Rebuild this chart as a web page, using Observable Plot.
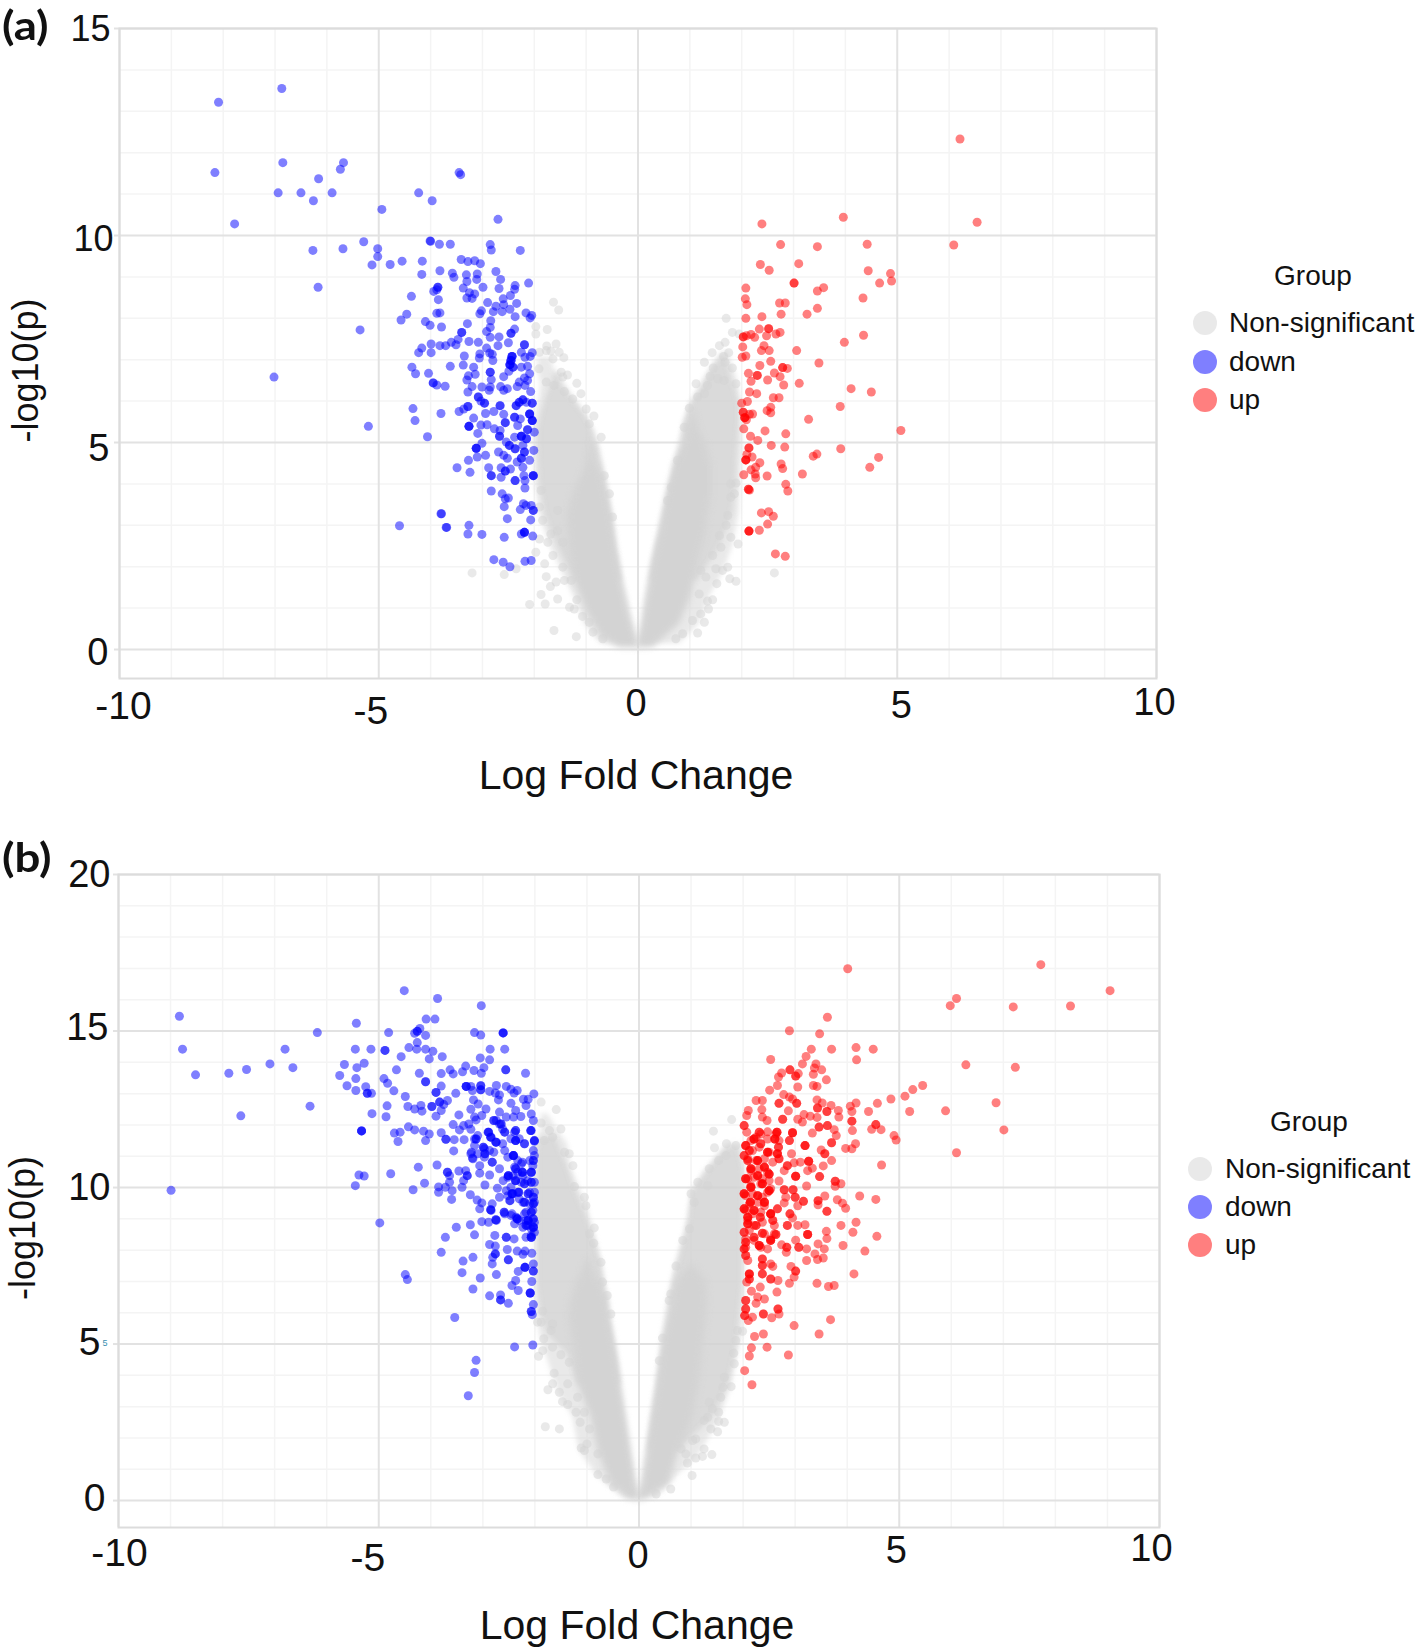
<!DOCTYPE html>
<html><head><meta charset="utf-8">
<script src="https://cdn.jsdelivr.net/npm/d3@7"></script>
<script src="https://cdn.jsdelivr.net/npm/@observablehq/plot@0.6"></script>
<style>
html,body{margin:0;padding:0;background:#fff;}
#page{position:relative;width:1416px;height:1650px;overflow:hidden;font-family:"Liberation Sans",Arial,sans-serif;color:#111;}
#page svg{position:absolute;left:0;background:transparent;}
.tag{position:absolute;left:2px;font:700 38px Lato,sans-serif;line-height:46px;transform:scale(1.2,1.06);transform-origin:0 0;}
.lg{position:absolute;font-size:28px;line-height:34px;white-space:nowrap;}
.sw{position:absolute;width:24px;height:24px;border-radius:50%;}
</style></head><body><div id="page"></div>
<script>
// Panel (a): Log Fold Change, -log10(p) pairs
const aDown=[-6.87,13.55,-8.09,13.22,-6.85,11.76,-5.68,11.76,-5.74,11.60,-8.16,11.52,-3.45,11.52,-3.42,11.47,-6.16,11.37,-6.94,11.03,-6.50,11.03,-5.90,11.03,-4.23,11.03,-6.26,10.84,-3.97,10.84,-4.94,10.63,-7.78,10.28,-2.70,10.39,-5.29,9.85,-4.01,9.87,-6.27,9.64,-5.69,9.68,-5.02,9.68,-5.02,9.49,-5.13,9.29,-4.78,9.30,-4.55,9.38,-6.17,8.75,-5.36,7.72,-7.02,6.58,-5.20,5.39,-4.30,5.53,-4.34,5.82,-4.06,5.14,-4.60,2.99,-3.79,3.28,-3.70,2.95,-3.80,5.70,
-4.00,9.86,-3.83,9.79,-3.62,9.79,-2.85,9.78,-2.83,9.65,-2.27,9.64,-4.16,9.38,-4.17,9.06,-3.82,9.15,-3.41,9.42,-3.28,9.37,-3.15,9.39,-3.04,9.32,-2.74,9.13,-3.58,9.09,-3.55,8.99,-3.31,9.05,-3.10,9.07,-3.11,8.94,-2.65,8.94,-3.30,8.89,-2.11,8.85,-2.37,8.79,-3.37,8.73,-2.99,8.75,-2.68,8.72,-2.38,8.70,-3.86,8.75,-3.86,8.75,-3.88,8.69,-3.94,8.65,-4.37,8.53,-3.25,8.62,-3.15,8.59,-2.46,8.55,-3.30,8.49,-3.20,8.48,-3.85,8.45,-2.60,8.47,-2.90,8.38,-2.34,8.36,-2.59,8.33,-2.74,8.29,-2.47,8.22,-2.62,8.16,-2.79,8.16,-3.02,8.18,-3.05,8.11,-3.88,8.12,-3.82,8.13,-4.46,8.10,-4.57,7.96,-2.37,8.04,-2.16,8.13,-2.05,8.07,-2.08,8.01,-2.84,7.94,-4.10,7.92,-4.01,7.83,-3.29,7.87,-3.79,7.79,-2.85,7.78,-2.92,7.68,-2.38,7.74,-2.45,7.64,-2.45,7.64,-3.40,7.66,-3.40,7.66,-2.85,7.54,-2.68,7.55,-3.47,7.49,-3.26,7.44,-3.08,7.42,-2.50,7.41,-3.60,7.42,-3.51,7.36,-3.71,7.34,-3.82,7.34,-3.99,7.38,-2.70,7.34,-2.19,7.36,-2.19,7.36,-4.17,7.28,-4.23,7.17,-3.99,7.17,-2.92,7.28,-2.86,7.16,-2.81,7.13,-3.05,7.14,-2.25,7.18,-2.04,7.17,-3.35,7.09,-3.06,7.04,-2.80,6.98,-2.43,7.08,-2.43,7.08,-2.43,7.08,-2.45,6.98,-2.45,6.98,-2.45,6.98,-2.47,6.88,-2.47,6.88,-2.47,6.88,-2.41,6.82,-2.41,6.82,-2.18,7.06,-2.08,7.08,-3.37,6.87,-3.62,6.84,-4.36,6.82,-4.29,6.66,-4.04,6.67,-3.17,6.82,-2.25,6.82,-2.13,6.84,-2.85,6.70,-2.85,6.70,-3.14,6.65,-2.59,6.59,-2.49,6.72,-3.27,6.61,-3.30,6.51,-2.83,6.52,-2.09,6.66,-2.19,6.56,-2.29,6.46,-2.13,6.50,-2.33,6.35,-2.18,6.38,-3.95,6.44,-3.95,6.44,-3.88,6.39,-3.72,6.36,-3.20,6.35,-3.01,6.34,-2.85,6.34,-2.65,6.35,-2.52,6.30,-2.87,6.26,-2.59,6.26,-3.28,6.22,-2.07,6.23,-3.08,6.10,-3.08,6.10,-3.03,6.00,-2.96,5.95,-2.96,5.95,-2.22,6.03,-2.22,6.03,-2.29,5.97,-2.29,5.97,-2.35,5.89,-2.35,5.89,-2.15,5.97,-2.04,5.95,-2.04,5.95,-2.66,5.89,-2.66,5.89,-3.28,5.87,-3.28,5.87,-3.36,5.81,-3.45,5.75,-2.94,5.70,-2.78,5.75,-2.59,5.68,-2.09,5.69,-2.09,5.69,-2.09,5.69,-2.04,5.53,-2.04,5.53,-2.04,5.53,-2.38,5.61,-2.38,5.61,-2.27,5.57,-3.17,5.59,-3.26,5.39,-3.26,5.39,-3.26,5.39,-3.03,5.42,-2.91,5.43,-2.56,5.48,-2.56,5.48,-2.77,5.33,-2.66,5.29,-2.32,5.41,-2.13,5.31,-2.13,5.31,-2.00,5.25,-3.09,5.22,-2.67,5.15,-2.67,5.15,-2.25,5.15,-2.25,5.15,-2.25,5.15,-2.38,5.13,-2.15,5.09,-2.15,5.09,-2.54,5.01,-3.01,4.98,-3.12,4.86,-3.12,4.86,-3.12,4.86,-2.48,4.93,-2.48,4.93,-2.37,4.85,-2.37,4.85,-2.22,4.93,-2.01,4.81,-2.19,4.77,-2.19,4.77,-2.69,4.77,-3.10,4.65,-2.94,4.69,-2.59,4.69,-2.52,4.62,-2.25,4.62,-2.25,4.62,-2.33,4.53,-2.09,4.57,-3.27,4.57,-3.49,4.39,-3.24,4.28,-2.88,4.39,-2.64,4.39,-2.56,4.31,-2.56,4.31,-2.46,4.36,-2.22,4.40,-2.02,4.20,-2.02,4.20,-2.02,4.20,-2.83,4.20,-2.83,4.20,-2.64,4.16,-2.20,4.20,-2.37,4.08,-2.37,4.08,-2.18,4.08,-2.18,3.90,-2.83,3.83,-2.62,3.76,-2.50,3.66,-2.56,3.64,-2.58,3.45,-2.21,3.52,-2.06,3.48,-2.27,3.38,-2.16,3.48,-2.02,3.36,-2.02,3.36,-3.80,3.28,-2.52,3.16,-2.07,3.13,-3.69,2.95,-3.26,3.00,-3.28,2.79,-3.01,2.78,-2.58,2.71,-2.19,2.83,-2.19,2.83,-2.19,2.83,-2.25,2.79,-2.03,2.74,-2.78,2.17,-2.60,2.11,-2.47,2.00,-2.18,2.13,-2.06,2.15];
const aUp=[6.21,12.33,3.96,10.44,2.39,10.28,6.54,10.32,6.09,9.77,2.75,9.78,3.46,9.73,4.42,9.79,2.36,9.30,2.53,9.16,3.10,9.32,4.44,9.15,4.87,9.08,4.89,8.90,4.66,8.85,3.01,8.85,3.01,8.85,2.08,8.73,3.46,8.66,3.58,8.74,4.34,8.49,2.07,8.47,2.10,8.33,2.73,8.37,2.84,8.37,3.46,8.24,2.76,8.10,3.26,8.10,2.39,8.04,2.08,8.00,2.34,7.74,2.52,7.75,2.52,7.75,2.74,7.66,2.66,7.62,2.48,7.58,2.18,7.61,2.25,7.54,2.03,7.55,2.03,7.55,2.09,7.58,4.35,7.59,3.98,7.42,2.02,7.31,2.43,7.34,2.38,7.22,2.53,7.22,3.06,7.22,2.01,7.06,2.08,7.09,2.56,6.96,3.49,6.92,2.35,6.86,2.79,6.81,2.79,6.81,2.88,6.79,2.13,6.67,2.63,6.68,2.30,6.62,2.30,6.62,2.74,6.59,2.50,6.51,2.18,6.48,3.11,6.43,2.81,6.39,4.11,6.30,4.50,6.22,2.15,6.22,2.29,6.18,2.61,6.08,2.72,6.08,2.11,5.99,2.00,5.95,3.90,5.87,2.56,5.85,2.49,5.77,2.56,5.72,2.03,5.73,2.03,5.73,2.21,5.69,2.15,5.68,2.06,5.60,2.06,5.60,2.06,5.60,2.09,5.55,3.29,5.56,2.04,5.33,2.45,5.28,2.85,5.21,5.07,5.29,2.17,5.15,2.31,5.05,2.57,4.93,2.83,4.89,3.91,4.85,2.14,4.87,2.14,4.87,2.10,4.71,2.20,4.65,2.08,4.58,2.08,4.58,2.08,4.58,3.45,4.72,3.38,4.67,4.64,4.64,4.47,4.40,2.35,4.51,2.76,4.48,2.27,4.40,2.79,4.37,2.18,4.34,2.26,4.24,2.27,4.15,2.04,4.22,2.49,4.19,3.17,4.24,2.85,3.99,2.13,3.87,2.13,3.87,2.15,3.85,2.89,3.83,2.38,3.30,2.52,3.33,2.61,3.22,2.50,3.03,2.34,2.88,2.14,2.86,2.14,2.86,2.14,2.86,2.65,2.31,2.84,2.25];
const aGray=[-1.63,8.39,-1.53,8.20,-1.97,7.80,-1.75,7.73,-1.97,7.62,-1.76,7.33,-1.58,7.38,-1.90,7.18,-1.77,7.22,-1.68,7.21,-1.52,7.18,-1.43,7.05,-1.64,7.02,-1.91,6.78,-1.48,6.70,-1.36,6.63,-1.45,6.58,-1.77,6.46,-1.62,6.38,-1.18,6.43,-1.42,6.23,-1.10,6.18,-1.26,6.05,-1.00,5.81,-.85,5.64,-.94,5.45,-.71,5.13,-.65,4.20,-.55,3.76,-.49,3.20,-1.90,2.67,-1.74,2.59,-1.45,2.59,-1.97,2.35,-1.64,2.27,-1.80,2.07,-2.35,1.95,-2.58,1.81,-3.20,1.85,-1.45,1.99,-1.77,1.76,-1.42,1.67,-1.58,1.63,-1.29,1.67,-1.69,1.52,-1.87,1.33,-1.55,1.22,-1.18,1.20,-2.09,1.09,-1.79,1.10,-1.32,1.02,-1.23,.98,-1.07,.80,-1.62,.46,-1.19,.31,-.94,.66,-.87,.42,-.68,.26,-1.87,3.84,-1.90,3.44,-1.84,3.12,-1.55,3.36,-1.68,2.79,-1.55,2.87,
1.70,8.00,1.82,7.66,1.95,7.62,1.68,7.42,1.57,7.34,1.43,7.17,1.65,7.08,1.75,7.17,1.28,6.94,1.68,6.94,1.82,6.80,1.45,6.80,1.39,6.60,1.12,6.42,1.54,6.54,1.66,6.50,1.89,6.42,1.34,6.38,1.15,6.10,1.28,6.18,.99,5.83,.89,5.37,.76,4.57,.64,3.92,.57,3.60,1.79,4.00,1.89,4.02,1.86,3.76,1.79,3.68,1.73,3.24,1.70,3.00,1.79,2.71,1.93,2.55,1.57,2.75,1.60,2.47,1.44,2.27,1.73,1.99,1.63,1.91,1.50,1.95,1.77,1.71,1.89,1.65,1.52,1.59,2.63,1.85,1.44,1.20,1.34,1.17,1.36,.98,1.21,.86,1.28,.66,1.15,.40,1.05,.70,.86,.38,.73,.26,1.31,1.75,1.18,1.34,1.21,1.91];
// Envelopes of the gray cloud: -log10(p), left edge, right edge
const aCoreL=[[.04,-.36,.01],[.30,-.71,-.04],[.85,-.97,-.17],[1.67,-1.23,-.32],[2.47,-1.33,-.43],[3.28,-1.36,-.52],[3.84,-1.23,-.62],[4.24,-1.07,-.71],[4.56,-.97,-.84],[5.00,-.92,-.88]];
const aMidL=[[1.67,-1.23,-.32],[2.47,-1.55,-.43],[3.28,-1.80,-.52],[4.08,-1.90,-.62],[4.89,-1.93,-.78],[5.29,-1.93,-.87],[5.69,-1.87,-1.03],[6.09,-1.77,-1.29],[6.41,-1.68,-1.48],[6.70,-1.60,-1.50]];
const aEdgeL=[[.14,-.71,0],[.62,-1.03,-.10],[1.26,-1.23,-.21],[1.83,-1.45,-.31],[2.47,-1.68,-.41],[3.12,-1.87,-.49],[3.92,-1.97,-.60],[4.89,-2,-.74],[5.29,-2,-.85],[5.69,-1.97,-1.00],[6.09,-1.90,-1.23],[6.42,-1.87,-1.42],[6.74,-1.93,-1.61],[7.06,-1.93,-1.68]];
const aCoreR=[[.04,-.03,.28],[.62,.08,.80],[1.26,.17,1.02],[2.07,.28,1.15],[2.87,.44,1.31],[3.68,.55,1.41],[4.48,.70,1.41],[4.97,.89,1.31],[5.29,.96,1.18],[5.70,1.05,1.10]];
const aMidR=[[1.67,.24,1.15],[2.47,.35,1.57],[3.28,.51,1.82],[4.08,.64,1.89],[4.89,.86,1.92],[5.45,.89,1.95],[5.93,1.02,1.95],[6.26,1.18,1.89],[6.58,1.34,1.79],[6.90,1.50,1.73],[7.10,1.60,1.65]];
const aEdgeR=[[.14,.03,.80],[.62,.09,1.18],[1.26,.15,1.37],[1.83,.23,1.63],[2.47,.33,1.82],[3.28,.47,1.95],[4.08,.64,1.98],[4.89,.76,2.02],[5.45,.87,2.0],[5.93,1.0,2.0],[6.26,1.16,1.95],[6.58,1.3,1.9],[6.9,1.45,1.8],[7.2,1.65,1.75]];

// Panel (b)
const bDown=[-4.51,16.29,-3.87,16.04,-3.03,15.81,-8.83,15.47,-4.09,15.38,-3.92,15.38,-5.43,15.25,-4.21,15.08,-4.26,14.99,-4.26,14.99,-4.31,14.93,-6.18,14.95,-4.81,14.95,-3.16,14.95,-3.04,14.87,-2.61,14.94,-2.61,14.94,-2.61,14.94,-4.10,14.86,-4.26,14.63,-4.42,14.47,-4.27,14.42,-4.10,14.42,-3.96,14.35,-8.77,14.42,-6.80,14.42,-5.45,14.42,-5.15,14.42,-4.88,14.38,-4.88,14.38,-2.86,14.42,-2.58,14.42,-4.57,14.18,-4.03,14.11,-3.78,14.18,-3.05,14.14,-2.87,14.08,-7.09,13.95,-5.66,13.93,-5.28,13.97,-5.42,13.83,-6.65,13.83,-7.54,13.77,-4.66,13.76,-2.98,13.83,-3.63,13.76,-3.33,13.88,-3.39,13.70,-3.17,13.74,-2.56,13.76,-2.56,13.76,-3.03,13.65,-3.57,13.63,-3.80,13.64,-4.22,13.65,-8.52,13.60,-7.88,13.65,-2.18,13.65,-5.75,13.58,-5.44,13.48,-4.90,13.48,-4.83,13.33,-4.10,13.38,-4.10,13.38,-3.80,13.24,-5.61,13.25,-5.25,13.22,-3.32,13.23,-3.32,13.23,-3.32,13.23,-3.23,13.23,-3.04,13.25,-3.04,13.25,-3.04,13.12,-3.04,13.12,-2.74,13.26,-2.55,13.23,-2.46,13.14,-2.34,13.10,-2.40,13.02,-2.02,12.99,-5.44,13.10,-4.71,13.09,-5.22,13.01,-5.22,13.01,-5.14,13.01,-3.90,13.04,-3.90,13.04,-3.52,13.01,-3.20,13.10,-2.87,13.07,-2.76,13.02,-2.68,12.96,-4.49,12.91,-2.70,12.80,-3.18,12.80,-2.22,12.82,-2.13,12.82,-2.46,12.69,-3.68,12.78,-3.83,12.73,-3.83,12.73,-3.75,12.65,-3.98,12.59,-3.98,12.59,-4.84,12.61,-4.44,12.59,-4.19,12.62,-4.31,12.51,-4.17,12.44,-3.80,12.46,-6.32,12.60,-3.23,12.50,-3.09,12.67,-2.94,12.51,-2.17,12.62,-2.37,12.46,-2.68,12.41,-2.07,12.35,-3.16,12.25,-3.02,12.30,-3.13,12.16,-2.55,12.25,-2.27,12.27,-2.41,12.25,-2.03,12.14,-5.13,12.36,-4.86,12.26,-3.90,12.28,-3.46,12.32,-7.65,12.29,-3.57,12.01,-2.79,12.14,-2.79,12.14,-2.65,12.03,-2.65,12.03,-3.27,12.03,-3.37,11.98,-4.43,11.94,-4.31,11.84,-4.14,11.80,-4.03,11.71,-4.59,11.77,-4.70,11.74,-5.33,11.81,-5.33,11.81,-5.33,11.81,-3.45,11.84,-3.23,11.86,-2.37,11.82,-2.37,11.82,-2.08,11.82,-2.08,11.82,-2.89,11.77,-2.89,11.77,-2.58,11.77,-2.58,11.77,-2.85,11.61,-2.85,11.61,-3.80,11.75,-3.71,11.54,-3.71,11.54,-3.55,11.53,-3.36,11.53,-4.10,11.50,-4.63,11.47,-3.13,11.55,-3.13,11.55,-2.75,11.45,-2.75,11.45,-2.37,11.50,-2.37,11.50,-2.37,11.50,-2.01,11.50,-2.01,11.50,-2.20,11.40,-2.20,11.40,-3.16,11.34,-2.99,11.29,-2.99,11.29,-2.58,11.18,-2.41,11.02,-2.41,11.02,-2.41,11.02,-2.03,11.18,-3.56,11.17,-3.23,11.08,-2.96,11.08,-2.96,11.08,-2.79,11.13,-3.20,10.94,-2.82,10.81,-2.82,10.81,-2.24,10.81,-2.03,10.86,-2.03,10.86,-3.06,10.70,-3.88,10.72,-4.24,10.65,-2.07,10.49,-2.07,10.49,-2.37,10.60,-2.37,10.60,-2.24,10.49,-2.24,10.49,-2.24,10.49,-2.51,10.38,-2.51,10.38,-2.51,10.38,-4.77,10.44,-5.38,10.40,-5.28,10.37,-3.68,10.49,-3.68,10.49,-3.64,10.38,-3.46,10.53,-3.33,10.54,-3.30,10.38,-3.30,10.38,-3.06,10.46,-2.87,10.40,-2.68,10.60,-3.37,10.22,-4.12,10.14,-3.64,10.17,-2.96,10.08,-2.37,10.22,-2.37,10.22,-2.37,10.22,-2.07,10.17,-2.07,10.17,-2.20,10.12,-2.20,10.12,-5.45,10.06,-2.61,10.22,-3.85,10.02,-3.40,10.01,-3.72,10.01,-4.34,9.93,-8.99,9.91,-3.85,9.85,-3.59,9.90,-2.72,9.98,-2.44,9.80,-2.44,9.80,-2.44,9.80,-2.31,9.85,-2.31,9.85,-2.13,9.80,-2.13,9.80,-2.03,9.69,-2.03,9.69,-3.24,9.77,-2.68,9.69,-3.60,9.62,-3.11,9.60,-3.02,9.51,-2.48,9.58,-2.48,9.58,-2.20,9.53,-2.20,9.53,-2.03,9.48,-2.03,9.48,-2.82,9.48,-3.06,9.32,-2.85,9.29,-2.85,9.29,-2.59,9.21,-2.59,9.21,-2.44,9.16,-2.07,9.21,-2.07,9.21,-2.20,9.16,-2.75,8.97,-2.75,8.97,-3.02,8.91,-2.89,8.89,-2.34,9.00,-2.34,9.00,-2.34,9.00,-2.13,8.95,-2.13,8.95,-2.13,8.95,-2.03,9.00,-2.03,9.00,-2.03,8.73,-2.03,8.73,-2.03,8.73,-2.17,8.79,-2.17,8.79,-4.98,8.87,-3.51,8.73,-3.24,8.81,-3.16,8.49,-3.72,8.41,-2.77,8.47,-2.55,8.41,-2.55,8.41,-2.40,8.36,-2.17,8.41,-2.07,8.41,-2.07,8.41,-2.07,8.41,
-3.80,7.93,-2.87,8.18,-2.76,8.13,-2.76,7.88,-2.76,7.88,-2.81,7.77,-2.53,8.02,-2.34,7.97,-2.19,7.97,-2.23,7.87,-2.06,7.90,-2.51,7.69,-2.51,7.69,-3.19,7.77,-3.38,7.65,-2.82,7.56,-2.19,7.45,-2.19,7.45,-2.19,7.45,-2.03,7.56,-2.03,7.33,-2.03,7.33,-2.32,7.32,-3.40,7.28,-2.74,7.22,-4.49,7.22,-4.45,7.06,-3.05,7.11,-2.37,7.03,-2.06,7.00,-2.44,6.87,-3.19,6.76,-2.32,6.71,-2.09,6.63,-2.09,6.63,-2.09,6.63,-2.87,6.54,-2.66,6.57,-2.66,6.41,-2.66,6.41,-2.51,6.30,-2.03,6.26,-2.07,6.04,-2.07,6.04,-2.05,5.94,-3.54,5.85,-2.04,4.97,-2.39,4.91,-3.13,4.48,-3.16,4.09,-3.28,3.35];
const bDownDense=[-2.68,12.03,-2.62,11.87,-2.74,12.14,-2.90,11.77,-2.84,11.61,-2.74,11.45,-2.62,11.40,-2.39,11.77,-2.30,11.56,-2.46,11.56,-2.07,11.82,-2.01,11.48,-3.16,11.55,-3.10,11.66,-2.97,11.24,-2.87,11.18,-3.22,11.13,-3.10,11.08,-2.97,10.97,-3.19,10.92,-2.42,11.02,-2.33,10.86,-2.52,10.97,-2.01,11.02,-2.10,10.86,-2.26,10.76,-2.39,10.65,-2.04,10.70,-2.52,10.33,-2.42,10.38,-2.33,10.49,-2.23,10.38,-2.07,10.49,-2.14,10.22,-2.01,10.17,-2.26,10.17,-2.46,10.01,-2.55,9.90,-2.33,9.85,-2.42,9.80,-2.10,9.85,-2.01,9.85,-2.52,9.74,-2.23,9.53,-2.30,9.64,-2.01,9.53,-2.10,9.48,-2.04,9.27,-2.17,9.21,-2.84,9.27,-2.74,8.95,-2.58,9.16,-2.46,9.11,-2.36,9.05,-2.17,8.95,-2.30,8.95,-2.39,8.84,-2.07,8.68,-2.14,8.79,-2.01,8.89,-2.23,8.73,-2.07,8.47,-2.01,8.57];
const bUp=[4.01,16.99,7.72,17.12,9.05,16.29,6.10,16.04,5.98,15.81,7.19,15.77,8.29,15.80,3.62,15.44,2.89,15.01,3.47,14.91,3.70,14.42,3.31,14.42,4.17,14.47,4.50,14.42,4.18,14.08,3.21,14.19,2.53,14.09,3.14,13.95,3.40,13.95,6.28,13.92,7.23,13.84,3.37,13.82,3.51,13.76,2.90,13.76,2.90,13.76,2.74,13.66,3.06,13.64,3.01,13.56,3.01,13.56,2.68,13.53,3.35,13.62,3.60,13.44,2.66,13.26,3.05,13.21,3.35,13.26,3.42,13.23,2.51,13.11,5.45,13.26,5.26,13.13,5.11,12.92,4.84,12.83,2.78,12.97,2.89,12.89,2.95,12.83,2.25,12.78,2.37,12.78,3.42,12.80,2.69,12.69,2.69,12.69,3.03,12.69,3.03,12.69,3.52,12.70,3.69,12.62,4.06,12.60,4.17,12.70,4.58,12.69,6.86,12.71,3.43,12.54,3.43,12.54,2.10,12.46,2.36,12.49,2.87,12.45,3.61,12.43,3.61,12.43,3.83,12.46,4.09,12.43,4.41,12.43,5.20,12.43,5.89,12.45,2.07,12.30,2.37,12.25,3.17,12.33,3.29,12.28,3.42,12.24,3.84,12.25,2.46,12.14,2.76,12.18,2.76,12.18,3.05,12.18,3.14,12.09,4.09,12.12,4.09,12.12,2.02,11.98,2.02,11.98,3.46,11.93,3.46,11.93,3.62,11.98,3.62,11.98,4.55,12.01,4.55,12.01,4.47,11.86,4.65,11.85,4.10,11.82,3.75,11.85,7.01,11.84,2.07,11.77,2.47,11.78,2.31,11.77,2.31,11.77,2.65,11.77,2.65,11.77,2.65,11.77,2.95,11.75,2.95,11.75,2.95,11.75,3.33,11.74,3.79,11.66,4.90,11.66,4.94,11.52,2.21,11.55,2.21,11.55,2.21,11.55,2.61,11.55,2.61,11.55,2.61,11.55,2.89,11.50,2.89,11.50,3.19,11.34,3.19,11.34,3.19,11.34,3.70,11.43,3.70,11.43,4.16,11.40,2.05,11.34,2.05,11.34,2.34,11.40,2.34,11.40,2.68,11.29,2.68,11.29,2.12,11.18,2.12,11.18,3.97,11.25,4.09,11.24,3.50,11.20,3.57,11.08,3.57,11.08,6.10,11.11,2.47,11.13,2.47,11.13,2.47,11.13,2.66,11.08,2.66,11.08,2.02,11.02,2.02,11.02,2.28,10.86,2.28,10.86,2.28,10.86,2.09,10.86,2.09,10.86,2.69,10.92,2.69,10.92,2.93,11.08,3.70,10.86,2.98,10.79,3.26,10.84,3.26,10.84,3.26,10.84,3.10,10.81,2.85,10.70,2.85,10.70,3.54,10.69,4.66,10.72,3.33,10.62,2.41,10.65,2.41,10.65,2.41,10.65,2.15,10.60,2.15,10.60,2.15,10.60,2.79,10.54,3.24,10.54,2.50,10.43,2.50,10.43,2.50,10.43,2.28,10.38,2.28,10.38,2.28,10.38,3.01,10.36,3.01,10.36,3.01,10.36,3.47,10.35,3.47,10.35,2.05,10.28,2.05,10.28,2.05,10.28,2.69,10.21,2.37,10.12,2.37,10.12,2.37,10.12,2.15,10.01,2.15,10.01,2.15,10.01,3.77,10.20,3.77,10.20,3.88,10.12,3.77,10.04,3.22,10.05,2.79,9.93,2.79,9.93,2.96,9.93,2.96,9.93,2.02,9.80,2.02,9.80,2.02,9.80,2.50,9.90,2.50,9.90,2.50,9.90,2.28,9.74,2.28,9.74,2.28,9.74,4.24,9.73,3.57,9.73,4.55,9.62,2.82,9.69,3.00,9.69,3.00,9.69,3.16,9.56,3.16,9.56,3.44,9.58,3.44,9.58,3.81,9.61,2.14,9.53,2.14,9.53,2.14,9.53,2.41,9.53,2.41,9.53,2.41,9.53,3.91,9.50,2.79,9.51,3.05,9.42,3.44,9.45,2.02,9.32,2.02,9.32,2.02,9.32,2.21,9.27,2.21,9.27,2.21,9.27,3.97,9.34,2.66,9.32,2.66,9.32,3.61,9.24,3.61,9.24,2.53,9.16,2.53,9.16,2.53,9.16,2.90,9.16,2.90,9.16,2.09,9.05,2.09,9.05,2.09,9.05,2.33,9.05,2.33,9.05,2.95,9.03,2.57,8.95,2.57,8.95,2.09,8.84,2.09,8.84,2.09,8.84,2.25,8.79,2.25,8.79,2.85,8.79,2.85,8.79,3.05,8.79,3.19,8.81,3.88,8.79,4.17,8.89,2.60,8.79,2.02,8.57,2.02,8.57,2.37,8.54,2.37,8.54,3.60,8.60,4.11,8.57,3.24,8.50,3.24,8.50,3.24,8.50,2.21,8.41,2.21,8.41,2.63,8.50,2.63,8.50,2.53,8.31,2.53,8.31,2.53,8.31,4.57,8.44,3.01,8.32,3.61,8.37,2.05,8.25,2.05,8.25,2.31,8.15,2.31,8.15,2.31,8.15,3.44,8.20,2.74,8.17,3.92,8.15,2.02,8.04,2.02,8.04,2.84,8.09,2.84,8.09,3.07,8.09,3.07,8.09,3.22,8.04,3.56,8.04,2.47,8.04,2.83,7.93,4.34,7.97,2.05,7.83,2.05,7.83,3.38,7.88,2.37,7.72,2.37,7.72,3.54,7.75,3.43,7.70,3.22,7.67,2.09,7.67,2.53,7.56,2.37,7.51,2.37,7.51,2.57,7.48,2.92,7.48,3.01,7.33,3.01,7.33,2.37,7.24,2.37,7.24,4.13,7.24,2.12,7.24,2.12,7.24,2.12,7.24,2.98,7.14,2.12,7.08,2.12,7.08,2.53,7.08,2.53,7.08,2.67,7.03,2.07,6.98,2.89,6.94,3.42,6.94,3.64,6.84,3.75,6.87,2.33,6.82,2.16,6.69,2.65,6.66,2.28,6.50,2.41,6.44,2.05,6.39,2.05,6.39,2.25,6.30,2.05,6.12,2.05,6.12,2.67,6.12,2.67,6.12,2.39,5.96,2.39,5.96,2.69,5.96,2.03,5.91,2.03,5.91,2.18,5.86,2.55,5.84,2.10,5.75,3.68,5.78,2.98,5.59,2.39,5.32,2.22,5.24,3.46,5.32,2.16,4.88,2.46,4.90,2.12,4.62,2.87,4.65,2.03,4.15,2.17,3.70];
const bUpDense=[2.05,11.34,2.15,11.50,2.25,11.61,2.34,11.71,2.47,11.55,2.63,11.71,2.69,11.50,2.18,11.18,2.31,11.29,2.50,11.13,2.66,11.08,2.09,10.92,2.25,10.86,2.41,10.92,2.57,10.81,2.15,10.54,2.31,10.60,2.47,10.49,2.09,10.28,2.21,10.33,2.37,10.28,2.50,10.22,2.15,10.06,2.34,10.12,2.53,9.96,2.05,9.74,2.18,9.80,2.37,9.69,2.47,9.85,2.12,9.48,2.28,9.53,2.41,9.42,2.05,9.27,2.18,9.16,2.34,9.21,2.53,9.16,2.09,8.95,2.21,8.79,2.37,8.89,2.12,8.63,2.41,8.52,2.53,8.36,2.60,8.52,2.05,8.36,2.21,8.31,2.34,8.09,2.05,8.09];
const bGray=[-1.59,12.49,-1.88,12.73,-1.88,12.06,-1.50,11.87,-1.72,11.82,-1.66,11.61,-1.82,11.50,-1.43,11.13,-1.34,11.08,-1.27,10.70,-1.24,10.03,-1.05,9.69,-1.02,9.42,-.86,8.71,-.95,8.52,-.87,8.22,-.73,7.61,-.70,6.98,-.61,6.55,-.54,5.96,-1.95,5.70,-1.88,5.70,-1.85,6.05,-1.83,5.17,-1.66,5.64,-1.69,5.43,-1.66,4.90,-1.85,4.79,-1.93,4.61,-1.50,4.66,-1.63,4.07,-1.66,3.73,-1.75,3.54,-1.53,3.46,-1.47,3.16,-1.37,3.07,-1.34,4.42,-1.37,3.73,-1.18,3.30,-1.21,2.82,-1.05,2.82,-1.13,2.50,-1.80,2.36,-1.53,2.29,-.95,2.29,-1.11,1.68,-1.00,1.81,-1.05,1.60,-.79,.83,-.63,.69,-.49,.43,-.79,1.49,
1.78,12.17,1.43,11.80,1.45,11.27,1.68,11.40,1.86,11.34,1.67,11.02,1.53,10.86,1.35,10.60,1.13,10.17,1.32,10.06,1.00,9.80,1.06,9.53,.97,8.68,.84,8.31,.71,7.49,.61,6.60,.58,6.39,.45,5.19,.39,4.47,1.89,5.43,1.99,5.41,1.86,5.11,1.82,4.71,1.83,4.37,1.77,3.64,1.61,3.62,1.57,3.30,1.35,3.14,1.41,2.93,1.53,2.82,1.32,2.66,1.64,2.50,1.53,2.53,1.25,2.56,1.38,2.29,1.51,2.20,1.09,1.97,1.25,1.65,1.40,1.47,1.22,1.41,1.09,1.36,.93,1.20,1.02,.80,.61,.37,.33,.21,.81,1.65,.90,1.49,1.03,1.92,1.64,3.94];
const bCoreL=[[.03,-.19,.01],[.53,-.54,-.06],[1.60,-.79,-.15],[2.66,-.92,-.25],[3.73,-1.18,-.35],[4.79,-1.24,-.45],[5.86,-1.34,-.57],[6.39,-1.31,-.60],[6.92,-1.21,-.73],[7.24,-1.11,-.86],[7.70,-1.00,-.95]];
const bMidL=[[3.73,-1.18,-.35],[4.69,-1.37,-.44],[5.32,-1.75,-.51],[5.96,-1.88,-.60],[6.82,-1.95,-.67],[7.67,-1.95,-.73],[8.52,-1.95,-.89],[9.27,-1.95,-1.05],[10.01,-1.95,-1.24],[10.65,-1.95,-1.37],[11.18,-1.95,-1.50],[11.60,-1.90,-1.60]];
const bEdgeL=[[.11,-.28,.01],[.75,-.79,-.09],[1.6,-1.15,-.19],[2.66,-1.27,-.27],[3.51,-1.56,-.35],[4.47,-1.75,-.42],[5.32,-1.91,-.51],[6.18,-1.98,-.57],[7.45,-1.98,-.70],[8.52,-1.98,-.86],[9.37,-1.98,-.99],[10.01,-1.98,-1.15],[10.65,-1.98,-1.31],[11.39,-1.98,-1.37],[11.82,-1.88,-1.56],[12.35,-1.88,-1.75]];
const bCoreR=[[.03,-.03,.10],[.53,.07,.58],[1.60,.17,.77],[2.66,.26,1.03],[3.73,.36,1.16],[4.79,.45,1.22],[5.86,.58,1.29],[6.39,.65,1.32],[7.03,.74,1.29],[7.50,1.00,1.05]];
const bMidR=[[1.60,.17,.77],[2.66,.26,1.41],[3.73,.36,1.73],[4.79,.45,1.86],[5.86,.58,1.93],[6.92,.65,1.99],[7.99,.81,1.99],[9.05,.97,1.99],[9.90,1.00,2.02],[10.54,1.32,2.02],[10.97,1.51,1.96],[11.30,1.70,1.90]];
const bEdgeR=[[.11,-.03,.33],[.75,.07,.71],[1.49,.13,1.16],[2.56,.23,1.54],[3.62,.33,1.77],[4.47,.39,1.86],[5.32,.45,1.99],[6.39,.55,2.02],[7.45,.68,2.02],[8.52,.87,2.02],[9.58,1.0,2.02],[10.44,1.22,2.02],[10.97,1.48,1.99],[11.39,1.70,1.96]];

const groups=["Non-significant","down","up"];
const xMajor=[-10,-5,0,5,10], xMinor=d3.range(-9,10).filter(v=>v%5!==0);
const aYMajor=[0,5,10,15], aYMinor=[1,2,3,4,6,7,8,9,11,12,13,14];
const bYMajor=[0,5,10,15,20], bYMinor=[1,2,3,4,6,7,8,9,11,12,13,14,16,17,18,19];

const pairs=f=>d3.range(0,f.length,2).map(i=>[f[i],f[i+1]]);
const SW=4.5, GREY="#d3d3d3";
const band=(rows,op,blur)=>Plot.area(rows,{x1:d=>d[1],x2:d=>d[2],y1:d=>d[0],y2:d=>d[0],fill:GREY,fillOpacity:op,curve:"linear",imageFilter:`blur(${blur}px)`});
const pts=(f,c)=>Plot.dot(pairs(f),{x:d=>d[0],y:d=>d[1],r:SW,fill:c,fillOpacity:.5,stroke:"none",imageFilter:"blur(0.5px)"});
const xt=(v,fs,dx,dy)=>Plot.axisX([v],{anchor:"bottom",tickSize:0,tickPadding:0,lineAnchor:"top",tickFormat:d=>String(d),fontSize:fs,fill:"#111",dx,dy,label:null});
const yt=(v,fs,dx,dy)=>Plot.axisY([v],{anchor:"left",tickSize:0,tickPadding:0,tickFormat:d=>String(d),fontSize:fs,fill:"#111",dx,dy,label:null});

function panel(o){
  return Plot.plot({
    width:1416,height:o.h,marginLeft:o.ml,marginRight:o.mr,marginTop:o.mt,marginBottom:o.mb,
    style:{fontFamily:'"Liberation Sans",Arial,sans-serif',background:"transparent",overflow:"visible"},
    x:{domain:[-10,10],axis:null},y:{domain:o.yd,axis:null},
    marks:[
      Plot.gridX(xMinor,{stroke:"#f4f4f4",strokeOpacity:1,strokeWidth:1.5}),
      Plot.gridY(o.yMinor,{stroke:"#f4f4f4",strokeOpacity:1,strokeWidth:1.5}),
      Plot.gridX(xMajor,{stroke:"#e2e2e2",strokeOpacity:1,strokeWidth:2}),
      Plot.gridY(o.yMajor,{stroke:"#e2e2e2",strokeOpacity:1,strokeWidth:2}),
      Plot.axisY(o.yMajor,{anchor:"left",tickSize:5,tickPadding:0,fill:"none",stroke:"#e2e2e2",strokeWidth:2,label:null}),
      Plot.frame({stroke:"#dcdcdc",strokeWidth:2}),
      band(o.edgeL,.5,2.5),band(o.edgeR,.5,2.5),
      band(o.midL,.7,2.5),band(o.midR,.7,2.5),
      band(o.coreL,1,3),band(o.coreR,1,3),
      pts(o.gray,GREY),pts(o.down,"#0000ff"),pts(o.up,"#ff0000"),
      ...o.xt,...o.yt,
      Plot.text(["Log Fold Change"],{frameAnchor:"bottom",textAnchor:"middle",fontSize:41,fill:"#111",dx:-2,dy:o.xl,lineAnchor:"middle"}),
      Plot.text(["-log10(p)"],{frameAnchor:"left",textAnchor:"middle",rotate:-90,fontSize:36,fill:"#111",dx:o.ylx,dy:o.yly,lineAnchor:"middle"}),
      ...(o.extra||[])
    ]});
}

const page=document.getElementById("page");
const A=panel({h:800,ml:119,mr:260,mt:28,mb:122,yd:[-0.7,15],yMajor:aYMajor,yMinor:aYMinor,
  edgeL:aEdgeL,edgeR:aEdgeR,midL:aMidL,midR:aMidR,coreL:aCoreL,coreR:aCoreR,gray:aGray,down:aDown,up:aUp,
  xt:[xt(-10,39,4,13),xt(-5,39,-8,18),xt(0,38,-2,11),xt(5,38,4,13),xt(10,38,-2,10)],
  yt:[yt(15,36,-9,1),yt(10,36,-6,4),yt(5,38,-10,6),yt(0,38,-11,3)],
  xl:97,ylx:-93,yly:17});
A.style.top="0px";page.append(A);
const B=panel({h:850,ml:118,mr:257,mt:74,mb:123,yd:[-0.86,20],yMajor:bYMajor,yMinor:bYMinor,
  edgeL:bEdgeL,edgeR:bEdgeR,midL:bMidL,midR:bMidR,coreL:bCoreL,coreR:bCoreR,gray:bGray,down:bDown.concat(bDownDense),up:bUp.concat(bUpDense),
  xt:[xt(-10,39,1,11),xt(-5,39,-11,16),xt(0,38,-1,14),xt(5,38,-3,9),xt(10,38,-8,7)],
  yt:[yt(20,38,-8,0),yt(15,38,-10,-3),yt(10,38,-8,0),yt(5,39,-18,-2),yt(0,39,-13,-2)],
  xl:98,ylx:-95,yly:27,
  extra:[Plot.axisY([5],{anchor:"left",tickSize:0,tickPadding:0,tickFormat:d=>String(d),fontSize:9,fill:"#3a8fb0",dx:-11,dy:-1,label:null})]});
B.style.top="800px";page.append(B);

function tag(t,top){const d=document.createElement("div");d.className="tag";d.textContent=t;d.style.top=top+"px";page.append(d);}
tag("(a)",0);tag("(b)",832);
const swatch=["rgba(211,211,211,.5)","rgba(0,0,255,.5)","rgba(255,0,0,.5)"];
function legend(cx,tx,gx,gy,ys){
  const g=document.createElement("div");g.className="lg";g.textContent="Group";g.style.left=gx+"px";g.style.top=(gy-17)+"px";g.style.transform="translateX(-50%)";page.append(g);
  groups.forEach((n,i)=>{
    const s=document.createElement("div");s.className="sw";s.style.left=(cx-12)+"px";s.style.top=(ys[i]-12)+"px";s.style.background=swatch[i];page.append(s);
    const t=document.createElement("div");t.className="lg";t.textContent=n;t.style.left=tx+"px";t.style.top=(ys[i]-17)+"px";page.append(t);
  });
}
legend(1205,1229,1313,276,[323,362,400]);
legend(1200,1225,1309,1122,[1169,1207,1245]);
</script></body></html>
